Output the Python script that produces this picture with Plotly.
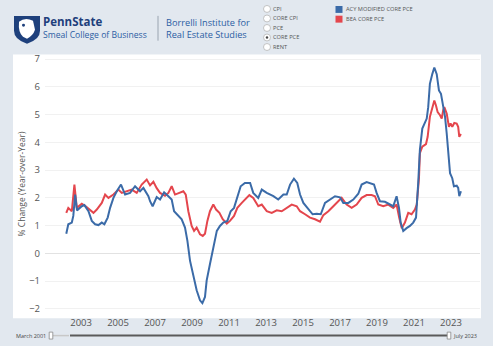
import plotly.graph_objects as go

W, H = 493, 346


def px(x):
    return x / W


def py(y):
    return 1 - y / H


# ---------------- data ----------------
blue_years = [2002.20, 2002.31, 2002.50, 2002.58, 2002.68, 2002.78, 2003.04, 2003.18, 2003.40, 2003.58,
              2003.76, 2003.94, 2004.12, 2004.26, 2004.44, 2004.57, 2004.75, 2004.93, 2005.16, 2005.38,
              2005.65, 2005.92, 2006.19, 2006.37, 2006.64, 2006.73, 2006.87, 2007.09, 2007.27, 2007.49,
              2007.72, 2007.90, 2008.03, 2008.26, 2008.44, 2008.62, 2008.75, 2008.89, 2009.07, 2009.25,
              2009.43, 2009.56, 2009.70, 2009.79, 2009.97, 2010.15, 2010.34, 2010.51, 2010.69, 2010.91,
              2011.09, 2011.27, 2011.45, 2011.63, 2011.86, 2012.14, 2012.31, 2012.58, 2012.77, 2013.04,
              2013.40, 2013.66, 2013.94, 2014.12, 2014.30, 2014.51, 2014.69, 2014.84, 2015.02, 2015.29,
              2015.52, 2015.74, 2015.96, 2016.19, 2016.46, 2016.73, 2017.00, 2017.18, 2017.45, 2017.72,
              2017.99, 2018.17, 2018.44, 2018.62, 2018.84, 2018.98, 2019.16, 2019.43, 2019.70, 2019.88,
              2020.06, 2020.19, 2020.28, 2020.42, 2020.60, 2020.78, 2020.96, 2021.11, 2021.23, 2021.32,
              2021.45, 2021.59, 2021.69, 2021.77, 2021.86, 2021.99, 2022.10, 2022.23, 2022.35, 2022.46,
              2022.58, 2022.68, 2022.77, 2022.86, 2022.95, 2023.07, 2023.16, 2023.31, 2023.39, 2023.45,
              2023.54]
blue_vals = [0.71, 1.05, 1.11, 1.35, 2.12, 1.55, 1.70, 1.74, 1.52, 1.17,
             1.05, 1.02, 1.11, 1.05, 1.29, 1.64, 2.00, 2.24, 2.48, 2.12,
             2.18, 2.42, 2.24, 2.36, 2.06, 1.88, 1.70, 2.03, 1.94, 2.20,
             2.06, 1.94, 1.52, 1.35, 1.23, 0.93, 0.45, -0.26, -0.86, -1.33,
             -1.69, -1.79, -1.57, -0.98, -0.38, 0.21, 0.81, 0.99, 1.11, 1.17,
             1.52, 1.64, 2.00, 2.42, 2.54, 2.54, 2.18, 2.00, 2.30, 2.18,
             2.06, 1.94, 2.12, 2.12, 2.48, 2.69, 2.54, 2.12, 1.82, 1.58,
             1.41, 1.43, 1.41, 1.82, 1.94, 2.06, 2.02, 1.82, 1.82, 1.94,
             2.15, 2.48, 2.57, 2.54, 2.48, 2.18, 1.88, 1.86, 1.76, 1.70,
             2.06, 1.64, 1.11, 0.81, 0.91, 0.99, 1.11, 1.29, 2.55, 3.73,
             4.50, 4.74, 4.86, 5.27, 6.11, 6.46, 6.70, 6.46, 5.87, 5.75,
             5.27, 4.92, 4.32, 3.61, 2.89, 2.71, 2.42, 2.44, 2.36, 2.06,
             2.24]

red_years = [2002.20, 2002.31, 2002.50, 2002.64, 2002.77, 2003.04, 2003.25, 2003.49, 2003.67, 2003.85,
             2004.12, 2004.30, 2004.48, 2004.75, 2005.02, 2005.20, 2005.47, 2005.74, 2006.01, 2006.28,
             2006.55, 2006.73, 2006.91, 2007.09, 2007.27, 2007.54, 2007.72, 2007.90, 2008.08, 2008.35,
             2008.53, 2008.66, 2008.80, 2008.98, 2009.11, 2009.25, 2009.43, 2009.58, 2009.70, 2009.83,
             2009.97, 2010.15, 2010.30, 2010.48, 2010.66, 2010.88, 2011.05, 2011.27, 2011.45, 2011.69,
             2011.86, 2012.10, 2012.31, 2012.58, 2012.77, 2013.04, 2013.31, 2013.58, 2013.85, 2014.12,
             2014.39, 2014.66, 2014.84, 2015.11, 2015.38, 2015.65, 2015.92, 2016.10, 2016.37, 2016.64,
             2016.91, 2017.09, 2017.36, 2017.63, 2017.90, 2018.17, 2018.44, 2018.71, 2018.89, 2019.07,
             2019.34, 2019.61, 2019.88, 2020.06, 2020.20, 2020.34, 2020.51, 2020.69, 2020.87, 2021.05,
             2021.15, 2021.27, 2021.32, 2021.45, 2021.65, 2021.74, 2021.86, 2021.99, 2022.10, 2022.19,
             2022.28, 2022.41, 2022.50, 2022.58, 2022.64, 2022.77, 2022.89, 2022.98, 2023.07, 2023.18,
             2023.31, 2023.39, 2023.45, 2023.54]
red_vals = [1.46, 1.64, 1.52, 2.48, 1.64, 1.79, 1.70, 1.58, 1.46, 1.58,
            1.82, 2.12, 2.00, 2.12, 2.30, 2.18, 2.24, 2.30, 2.18, 2.48,
            2.66, 2.45, 2.58, 2.35, 2.18, 2.08, 2.18, 2.42, 2.12, 2.18,
            2.24, 2.12, 1.52, 0.99, 0.81, 0.93, 0.69, 0.63, 0.71, 1.17,
            1.52, 1.76, 1.58, 1.46, 1.23, 1.07, 1.17, 1.35, 1.64, 1.82,
            1.94, 2.10, 2.00, 1.70, 1.76, 1.52, 1.46, 1.55, 1.52, 1.64,
            1.76, 1.70, 1.52, 1.41, 1.29, 1.23, 1.14, 1.38, 1.52, 1.70,
            1.88, 2.00, 1.76, 1.64, 1.76, 2.00, 2.10, 2.10, 2.06, 1.76,
            1.70, 1.76, 1.64, 1.76, 1.29, 0.91, 1.11, 1.46, 1.41, 1.58,
            1.76, 2.71, 3.61, 3.85, 3.94, 4.20, 4.92, 5.21, 5.51, 5.33,
            5.09, 4.98, 4.86, 5.16, 5.27, 5.04, 4.56, 4.68, 4.56, 4.70,
            4.68, 4.56, 4.20, 4.30]

year_ticks = [2003, 2005, 2007, 2009, 2011, 2013, 2015, 2017, 2019, 2021, 2023]
year_labels = [str(y) for y in year_ticks]
value_ticks = [-2, -1, 0, 1, 2, 3, 4, 5, 6, 7]

series_names = ["ACY MODIFIED CORE PCE", "BEA CORE PCE"]
series_colors = ["#3b6ba8", "#e4464d"]
radio_labels = ["CPI", "CORE CPI", "PCE", "CORE PCE", "RENT"]
selected_radio = "CORE PCE"
y_title = "% Change (Year-over-Year)"
slider_start = "March 2001"
slider_end = "July 2023"

BG = "#e2e8ef"
PSU = "#1e407c"
FONT = "Open Sans"

fig = go.Figure()
fig.add_trace(go.Scatter(x=red_years, y=red_vals, mode="lines", name=series_names[1],
                         line=dict(color=series_colors[1], width=2), hoverinfo="skip"))
fig.add_trace(go.Scatter(x=blue_years, y=blue_vals, mode="lines", name=series_names[0],
                         line=dict(color=series_colors[0], width=2), hoverinfo="skip"))

shapes = []
annotations = []


def note(text, x, y, size, color, xanchor="left", angle=0, family=FONT):
    annotations.append(dict(text=text, x=px(x), y=py(y), xref="paper", yref="paper", showarrow=False,
                            xanchor=xanchor, yanchor="middle", textangle=angle, borderpad=0,
                            font=dict(family=family, size=size, color=color)))


# white chart panel
shapes.append(dict(type="rect", xref="paper", yref="paper", x0=px(13), x1=px(481), y0=py(318), y1=py(52),
                   fillcolor="white", line=dict(width=0), layer="below"))

# PSU shield logo
shield = "M {} {} L {} {} L {} {} Q {} {} {} {} Q {} {} {} {} Z".format(
    px(14), py(13), px(40), py(13), px(40), py(28), px(40), py(37), px(27), py(41),
    px(14), py(37), px(14), py(28))
shapes.append(dict(type="path", xref="paper", yref="paper", path=shield, fillcolor=PSU, line=dict(width=0)))
lion = "M {} {} Q {} {} {} {} L {} {} Q {} {} {} {} L {} {} Q {} {} {} {} Z".format(
    px(19), py(19), px(25), py(14), px(33), py(18), px(35), py(27), px(33), py(33), px(27), py(36),
    px(23), py(34), px(18), py(30), px(19), py(19))
shapes.append(dict(type="path", xref="paper", yref="paper", path=lion, fillcolor="white", line=dict(width=0)))
shapes.append(dict(type="circle", xref="paper", yref="paper", x0=px(22), x1=px(25), y0=py(24), y1=py(21),
                   fillcolor=PSU, line=dict(width=0)))

# divider
shapes.append(dict(type="line", xref="paper", yref="paper", x0=px(158), x1=px(158), y0=py(13), y1=py(38),
                   line=dict(color="#9aa4b0", width=1)))

note("<b>PennState</b>", 42, 18.8, 11.5, PSU)
note("Smeal College of Business", 42, 32, 8.6, "#2b5da3")
note("Borrelli Institute for", 165, 19.5, 9.2, "#2b5da3")
note("Real Estate Studies", 165, 31.5, 9.2, "#2b5da3")

# radio buttons
for i, lab in enumerate(radio_labels):
    cy = 6 + i * 9.6
    shapes.append(dict(type="circle", xref="paper", yref="paper", x0=px(263.5), x1=px(270.5),
                       y0=py(cy + 3.5), y1=py(cy - 3.5), fillcolor="white",
                       line=dict(color="#b5b5b5", width=0.8)))
    if lab == selected_radio:
        shapes.append(dict(type="circle", xref="paper", yref="paper", x0=px(265.8), x1=px(268.2),
                           y0=py(cy + 1.2), y1=py(cy - 1.2), fillcolor="#444", line=dict(width=0)))
    note(lab, 271.5, cy, 5.7, "#555")

# legend
for i, (nm, col) in enumerate(zip(series_names, series_colors)):
    cy = 6.5 + i * 9.8
    shapes.append(dict(type="rect", xref="paper", yref="paper", x0=px(335.5), x1=px(342.5),
                       y0=py(cy + 3.5), y1=py(cy - 3.5), fillcolor=col, line=dict(width=0)))
    note(nm, 344.5, cy, 5.7, "#555")

# y title
note(y_title, 21, 183, 8.5, "#555", xanchor="center", angle=-90)

# date range slider
shapes.append(dict(type="line", xref="paper", yref="paper", x0=px(53), x1=px(69), y0=py(335.5), y1=py(335.5),
                   line=dict(color="#c8c8c8", width=1.5)))
shapes.append(dict(type="line", xref="paper", yref="paper", x0=px(70), x1=px(448), y0=py(335.5), y1=py(335.5),
                   line=dict(color="#5a5a5a", width=2)))
for kx in (51, 449):
    shapes.append(dict(type="rect", xref="paper", yref="paper", x0=px(kx - 1.8), x1=px(kx + 1.8),
                       y0=py(339), y1=py(332), fillcolor="white", line=dict(color="#888", width=0.8)))
note(slider_start, 47, 336, 5.5, "#444", xanchor="right")
note(slider_end, 452, 336, 5.5, "#444")

fig.update_layout(
    width=W, height=H, autosize=False,
    margin=dict(l=0, r=0, t=0, b=0),
    paper_bgcolor=BG, plot_bgcolor="white",
    showlegend=False,
    shapes=shapes, annotations=annotations,
    xaxis=dict(domain=[px(45), px(480)], range=[2001.05, 2024.57], tickmode="array",
               tickvals=year_ticks, ticktext=year_labels, showgrid=False, zeroline=False,
               showline=False, ticks="", tickfont=dict(family=FONT, size=9.5, color="#555")),
    yaxis=dict(domain=[py(315), py(53)], range=[-2.23, 7.13], tickmode="array", tickvals=value_ticks,
               showgrid=True, gridcolor="#f1f1f1", gridwidth=1, zeroline=True, zerolinecolor="#e2e2e2",
               zerolinewidth=1, showline=False, ticks="", ticklabelstandoff=4,
               tickfont=dict(family=FONT, size=9.5, color="#555")),
)

fig.write_html("out.html", config={"displayModeBar": False})
